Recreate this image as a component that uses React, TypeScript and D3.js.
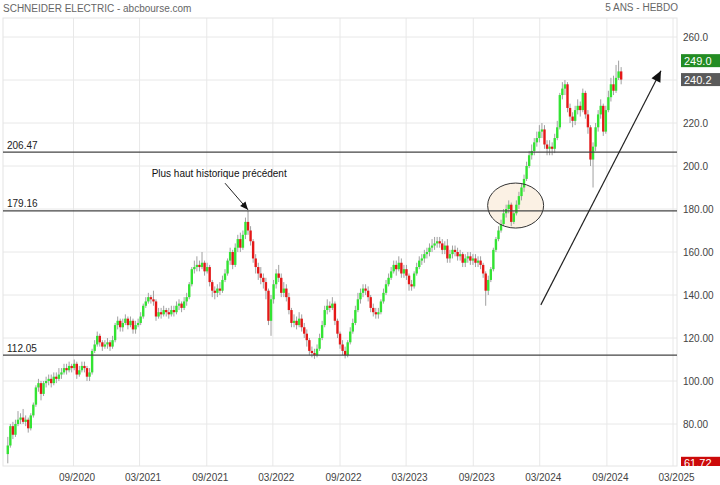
import React from 'react';
import * as d3 from 'd3';

// weekly candles, first week starting 2020-03-05; open = previous close
const firstOpen = 66;
const closes = [
  70, 79, 75, 80, 82, 83, 81, 82, 78, 84,
  89, 97, 99, 94, 99, 100, 101, 99, 102, 101,
  103, 104, 106, 105, 107, 106, 108, 103, 105, 107,
  106, 102, 104, 114, 117, 121, 118, 116, 117, 118,
  116, 119, 126, 128, 125, 127, 129, 126, 128, 124,
  126, 127, 130, 135, 137, 139, 138, 137, 130, 132,
  131, 133, 132, 131, 133, 132, 135, 136, 134, 137,
  139, 145, 152, 153, 154, 153, 155, 151, 153, 146,
  142, 141, 143, 142, 147, 150, 156, 160, 154, 162,
  166, 162, 168, 174, 170, 165, 157, 153, 150, 148,
  146, 142, 128, 138, 145, 150, 148, 141, 143, 139,
  133, 127, 128, 126, 129, 125, 122, 119, 114, 113,
  112, 115, 120, 126, 133, 135, 134, 136, 128, 122,
  117, 114, 112, 118, 123, 127, 133, 138, 141, 143,
  142, 139, 134, 132, 131, 132, 137, 141, 145, 148,
  151, 154, 152, 155, 150, 152, 149, 145, 144, 150,
  153, 156, 157, 159, 160, 162, 163, 164, 165, 164,
  161, 163, 157, 159, 161, 160, 158, 159, 155, 157,
  158, 156, 157, 155, 156, 154, 150, 142, 147, 152,
  161, 166, 170, 173, 178, 180, 182, 174, 178, 182,
  186, 190, 194, 200, 205, 207, 211, 213, 216, 217,
  210, 208, 209, 208, 213, 218, 233, 236, 238, 227,
  223, 221, 226, 228, 226, 234, 224, 218, 203, 209,
  218, 224, 228, 216, 226, 232, 238, 235, 241, 244, 240.2,
];
const highs = [
  74, 80, 81, 82, 86, 85, 87, 84, 83, 85,
  90, 98, 101, 100, 100, 102, 103, 103, 104, 104,
  106, 106, 108, 108, 109, 108, 110, 109, 107, 109,
  109, 107, 106, 115, 119, 123, 122, 119, 119, 120,
  119, 121, 127, 130, 129, 129, 131, 130, 130, 129,
  128, 129, 132, 136, 139, 141, 140, 142, 138, 134,
  134, 135, 134, 134, 135, 135, 137, 138, 137, 139,
  141, 146, 153, 156, 158, 156, 160, 156, 155, 154,
  147, 144, 145, 146, 149, 152, 157, 162, 161, 164,
  168, 169, 170, 176, 179.16, 172, 166, 159, 155, 153,
  150, 148, 143, 140, 147, 152, 154, 150, 146, 145,
  141, 134, 131, 130, 132, 131, 127, 124, 120, 116,
  115, 117, 122, 128, 135, 138, 137, 139, 137, 129,
  123, 119, 116, 119, 125, 129, 135, 141, 143, 145,
  145, 144, 140, 136, 134, 134, 138, 143, 147, 150,
  153, 156, 156, 158, 157, 154, 154, 150, 147, 151,
  155, 158, 159, 161, 162, 164, 166, 167, 167, 167,
  166, 165, 166, 161, 163, 163, 162, 161, 160, 159,
  160, 160, 159, 159, 158, 158, 155, 151, 149, 153,
  162, 167, 172, 175, 180, 182, 184, 183, 179, 184,
  188, 192, 196, 202, 207, 210, 213, 216, 219, 220,
  219, 212, 212, 211, 215, 221, 234, 239, 240, 239,
  229, 225, 228, 231, 230, 236, 235, 226, 219, 211,
  220, 226, 231, 229, 228, 235, 241, 242, 247, 249, 246,
];
const lows = [
  61.72, 69, 73, 74, 79, 80, 80, 79, 76, 77,
  83, 88, 95, 91, 93, 97, 98, 97, 98, 99,
  100, 101, 103, 103, 104, 104, 105, 101, 102, 104,
  104, 100, 100, 103, 113, 116, 116, 114, 115, 115,
  114, 115, 118, 124, 123, 123, 126, 124, 125, 122,
  122, 125, 126, 129, 134, 136, 136, 135, 128, 129,
  129, 130, 130, 129, 130, 130, 131, 133, 132, 133,
  135, 138, 144, 150, 151, 151, 152, 149, 150, 144,
  139, 138, 139, 140, 141, 146, 149, 154, 152, 153,
  160, 160, 161, 166, 168, 163, 155, 150, 147, 145,
  143, 138, 126, 121, 136, 143, 146, 139, 139, 137,
  131, 125, 125, 124, 125, 123, 120, 116, 112, 111,
  110.3, 111, 114, 119, 125, 131, 132, 133, 126, 120,
  115, 112, 110.5, 111, 117, 122, 126, 132, 136, 139,
  140, 137, 132, 130, 129, 129, 131, 136, 140, 144,
  147, 150, 149, 151, 148, 148, 147, 142, 142, 143,
  149, 152, 154, 155, 157, 158, 160, 161, 162, 162,
  159, 159, 155, 155, 157, 158, 156, 156, 153, 153,
  155, 154, 154, 153, 153, 152, 148, 135, 140, 146,
  151, 160, 165, 169, 172, 176, 178, 172, 173, 177,
  180, 184, 188, 193, 199, 203, 205, 209, 211, 213,
  208, 205, 205, 205, 206, 212, 217, 231, 233, 225,
  220, 218, 219, 224, 223, 225, 222, 215, 200, 190,
  207, 216, 222, 214, 215, 225, 230, 233, 234, 240, 238,
];

const xTickDates = [
  '2020-09-01', '2021-03-01', '2021-09-01', '2022-03-01', '2022-09-01',
  '2023-03-01', '2023-09-01', '2024-03-01', '2024-09-01', '2025-03-01',
];
const yTickValues = [80, 100, 120, 140, 160, 180, 200, 220, 240, 260];
const levelValues = [206.47, 179.16, 112.05];
const tagValues = [249.0, 240.2, 61.72];
const tagColors = ['#238c23', '#5a5a5a', '#cc0a0a'];

const W = 720;
const H = 485;
const left = 3;
const right = 677;
const top = 18;
const bottom = 466;

const x = d3.scaleUtc()
  .domain([new Date('2020-09-01'), new Date('2025-03-01')])
  .range([73.5, 673]);
const y = d3.scaleLinear().domain([80, 260]).range([424, 37]);

const candles = closes.map((c, i) => ({
  date: new Date(Date.UTC(2020, 2, 5 + 7 * i)),
  open: i === 0 ? firstOpen : closes[i - 1],
  close: c,
  high: highs[i],
  low: lows[i],
}));

const fmtMonth = d3.utcFormat('%m/%Y');
const fmtAxis = (v: number) => (v >= 200 ? v.toFixed(1) : v.toFixed(2));

function arrowHead(x1: number, y1: number, x2: number, y2: number, len = 10, half = 4) {
  const a = Math.atan2(y2 - y1, x2 - x1);
  const bx = x2 - len * Math.cos(a);
  const by = y2 - len * Math.sin(a);
  const px = -Math.sin(a) * half;
  const py = Math.cos(a) * half;
  return `${x2},${y2} ${bx + px},${by + py} ${bx - px},${by - py}`;
}

const font = '"Liberation Sans", Arial, sans-serif';

export default function App() {
  // annotations in data coordinates
  const peakArrow = [x(new Date('2021-10-21')), y(192), x(new Date('2021-12-23')), y(179.6)];
  const trendArrow = [x(new Date('2024-03-04')), y(135.4), x(new Date('2025-01-27')), y(244.3)];
  const ellipse = { cx: x(new Date('2023-12-26')), cy: y(181.6) };
  const bw = 2.4;

  // the axis label hidden under a value tag is not drawn
  const visibleTicks = yTickValues.filter(v => !tagValues.some(t => Math.abs(y(t) - y(v)) < 9));

  return (
    <svg width={W} height={H} style={{ position: 'absolute', left: 0, top: 0, background: '#fff' }}
      fontFamily={font}>
      <defs>
        <clipPath id="clip">
          <rect x={0} y={0} width={W} height={bottom} />
        </clipPath>
      </defs>
      <rect width={W} height={H} fill="#fff" />
      <text x={3} y={11.5} fontSize={10} fill="#666">SCHNEIDER ELECTRIC - abcbourse.com</text>
      <text x={678} y={11} fontSize={10} fill="#666" textAnchor="end">5 ANS - HEBDO</text>

      {/* grid */}
      {yTickValues.map(v => (
        <line key={v} x1={left} x2={right} y1={y(v)} y2={y(v)} stroke="#e8e8e8" />
      ))}
      {xTickDates.map(d => (
        <line key={d} x1={x(new Date(d))} x2={x(new Date(d))} y1={top} y2={bottom} stroke="#e8e8e8" />
      ))}
      <rect x={left} y={top} width={right - left} height={bottom - top} fill="none" stroke="#e4e4e4" />

      {/* axes labels */}
      {xTickDates.map(d => (
        <text key={d} x={x(new Date(d)) + 3.5} y={481} fontSize={10} fill="#444" textAnchor="middle">
          {fmtMonth(new Date(d))}
        </text>
      ))}
      {visibleTicks.map(v => (
        <text key={v} x={683} y={y(v) + 3.5} fontSize={10} fill="#444">{fmtAxis(v)}</text>
      ))}

      {/* ellipse fill */}
      <ellipse cx={ellipse.cx} cy={ellipse.cy} rx={28} ry={22.5} fill="#fbf1e4" />

      {/* candles */}
      {candles.map((c, i) => {
        const cx = x(c.date);
        const up = c.close >= c.open;
        const y0 = y(Math.max(c.open, c.close));
        const y1 = y(Math.min(c.open, c.close));
        return (
          <g key={i}>
            <line x1={cx} x2={cx} y1={y(c.high)} y2={y(c.low)} stroke="#a0a0a0" strokeWidth={1} />
            <rect x={cx - bw / 2} y={y0} width={bw} height={Math.max(1, y1 - y0)}
              fill={up ? '#33e333' : '#e41818'} />
          </g>
        );
      })}

      <ellipse cx={ellipse.cx} cy={ellipse.cy} rx={28} ry={22.5} fill="none" stroke="#333" strokeWidth={1} />

      {/* horizontal levels */}
      {levelValues.map(v => (
        <g key={v}>
          <line x1={left} x2={right} y1={y(v)} y2={y(v)} stroke="#444" strokeWidth={1.3} />
          <text x={7} y={y(v) - 3.5} fontSize={10} fill="#222">{v.toFixed(2)}</text>
        </g>
      ))}

      {/* annotations */}
      <text x={x(new Date('2021-04-03'))} y={y(195)} fontSize={10} fill="#111">Plus haut historique précédent</text>
      <line x1={peakArrow[0]} y1={peakArrow[1]} x2={peakArrow[2]} y2={peakArrow[3]} stroke="#222" strokeWidth={1} />
      <polygon points={arrowHead(peakArrow[0], peakArrow[1], peakArrow[2], peakArrow[3], 8, 3.5)} fill="#111" />
      <line x1={trendArrow[0]} y1={trendArrow[1]} x2={trendArrow[2]} y2={trendArrow[3]} stroke="#222" strokeWidth={1.2} />
      <polygon points={arrowHead(trendArrow[0], trendArrow[1], trendArrow[2], trendArrow[3], 11, 5)} fill="#111" />

      {/* value tags */}
      <g clipPath="url(#clip)">
        {tagValues.map((v, i) => (
          <g key={v}>
            <rect x={681} y={y(v) - 6.5} width={39} height={13} fill={tagColors[i]} />
            <text x={684} y={y(v) + 4} fontSize={11} fill="#fff">{v.toFixed(v < 100 ? 2 : 1)}</text>
          </g>
        ))}
      </g>
    </svg>
  );
}
